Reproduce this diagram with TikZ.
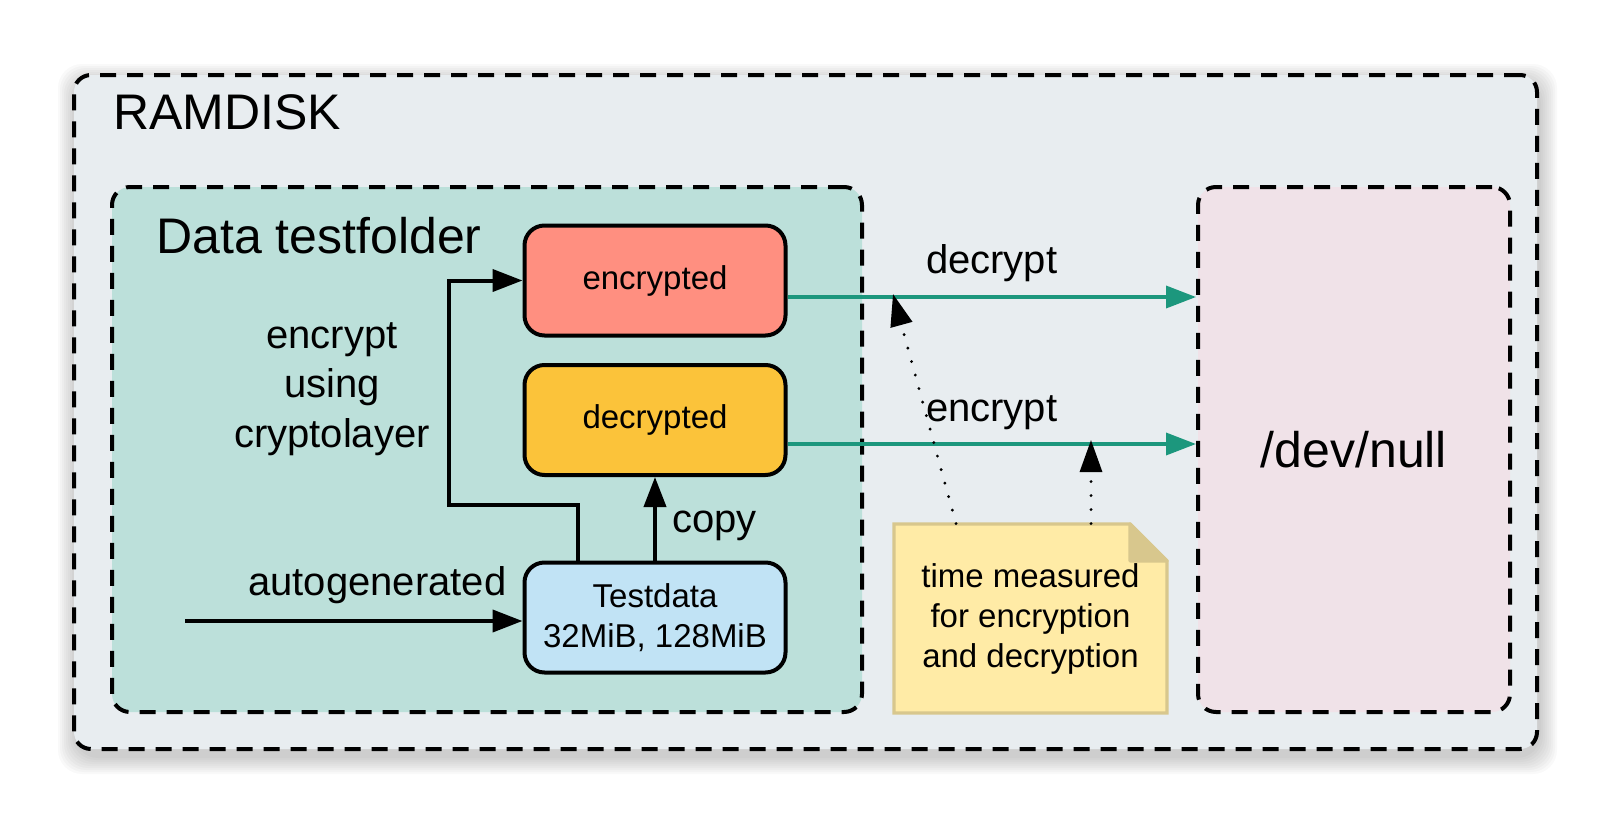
\documentclass[tikz,border=0pt]{standalone}
\usepackage{fontspec}
\setmainfont{Liberation Sans}
\usetikzlibrary{arrows.meta}
\definecolor{diskgray}{HTML}{E8EDF0}
\definecolor{foldergreen}{HTML}{BCE0DA}
\definecolor{encred}{HTML}{FF8F80}
\definecolor{decyellow}{HTML}{FBC33A}
\definecolor{datablue}{HTML}{C1E3F5}
\definecolor{nullpink}{HTML}{F0E2E8}
\definecolor{notefill}{HTML}{FFEBA6}
\definecolor{noteline}{HTML}{D8C78D}
\definecolor{pipeteal}{HTML}{1C977D}
\tikzset{
	zone/.style={draw, line width=2pt, dash pattern=on 8pt off 5.5pt, rounded corners=9pt, inner sep=0pt},
	store/.style={draw, line width=2pt, rounded corners=10pt, minimum width=130.5pt, minimum height=55pt, align=center, font=\fontsize{16.5}{20}\selectfont},
	title/.style={anchor=base west, inner sep=0pt, font=\fontsize{25}{30}\selectfont},
	lbl/.style={inner sep=0pt, font=\fontsize{20}{24.75}\selectfont},
	flow/.style={line width=2pt, -{Triangle[length=15pt,width=11pt]}},
	pipe/.style={flow, line width=1.8pt, draw=pipeteal},
	timing/.style={line width=1.6pt, line cap=round, dash pattern=on 0pt off 7pt, -{Triangle[length=16pt,width=11pt]}}
}
\begin{document}
\begin{tikzpicture}[x=0.5pt,y=-0.5pt]
	\useasboundingbox (0,0) rectangle (1613,825);
	\foreach \s in {1,...,9}
		\fill[black, opacity=0.025, rounded corners=12pt] (76-2*\s,82-2*\s) rectangle (1539+2*\s,756+2*\s);
	\node[zone, fill=diskgray, minimum width=731.5pt, minimum height=337pt, rounded corners=8.5pt] (ramdisk) at (805.5,412) {};
	\node[title] (disktitle) at (113,129) {RAMDISK};
	\node[zone, fill=foldergreen, minimum width=375pt, minimum height=262.5pt] (folder) at (487,449.5) {};
	\node[title] (foldertitle) at (156,253) {Data testfolder};
	\node[zone, fill=nullpink, minimum width=156pt, minimum height=262.5pt, font=\fontsize{25}{30}\selectfont] (devnull) at (1354,449.5) {/dev/null};

	\node[store, fill=encred] (enc) at (655,280.5) {encrypted};
	\node[store, fill=decyellow] (dec) at (655,420) {decrypted};
	\node[store, fill=datablue] (tdata) at (655,617.5) {Testdata\\32MiB, 128MiB};

	\draw[line width=1.6pt, draw=noteline, fill=notefill] (894,524) -- (1130,524) -- (1167,561) -- (1167,713) -- (894,713) -- cycle;
	\draw[line width=1.6pt, draw=noteline, fill=noteline, line join=round] (1130,524) -- (1130,561) -- (1167,561) -- cycle;
	\node[minimum width=136.5pt, minimum height=94.5pt, align=center, font=\fontsize{16.5}{20}\selectfont] (note) at (1030.5,618.5) {time measured\\for encryption\\and decryption};

	\coordinate (gensrc) at (185,621);
	\coordinate (cryptobend) at (449,505);
	\draw[flow] (gensrc) -- (gensrc -| tdata.west) node[lbl, pos=0.57, anchor=base, yshift=13pt] {autogenerated};
	\draw[flow] (tdata.north) -- (dec.south) node[lbl, midway, anchor=base west, xshift=7.5pt, yshift=-7.1pt] {copy};
	\draw[flow] ([xshift=-38.5pt]tdata.north) |- (cryptobend) |- (enc.west);
	\node[lbl, align=center] (cryptolbl) at (332,389) {encrypt\\using\\cryptolayer};

	\draw[pipe] ([yshift=-8.25pt]enc.east) -- ([yshift=-8.25pt]enc.east -| devnull.west) node[lbl, midway, anchor=base, yshift=12pt] {decrypt};
	\draw[pipe] ([yshift=-12pt]dec.east) -- ([yshift=-12pt]dec.east -| devnull.west) node[lbl, midway, anchor=base, yshift=11.5pt] {encrypt};

	\coordinate (decmark) at (893,294);
	\coordinate (encmark) at (1091,440);
	\draw[timing] ([xshift=-37.25pt]note.north) -- (decmark);
	\draw[timing] ([xshift=30.25pt]note.north) -- (encmark);
\end{tikzpicture}
\end{document}
